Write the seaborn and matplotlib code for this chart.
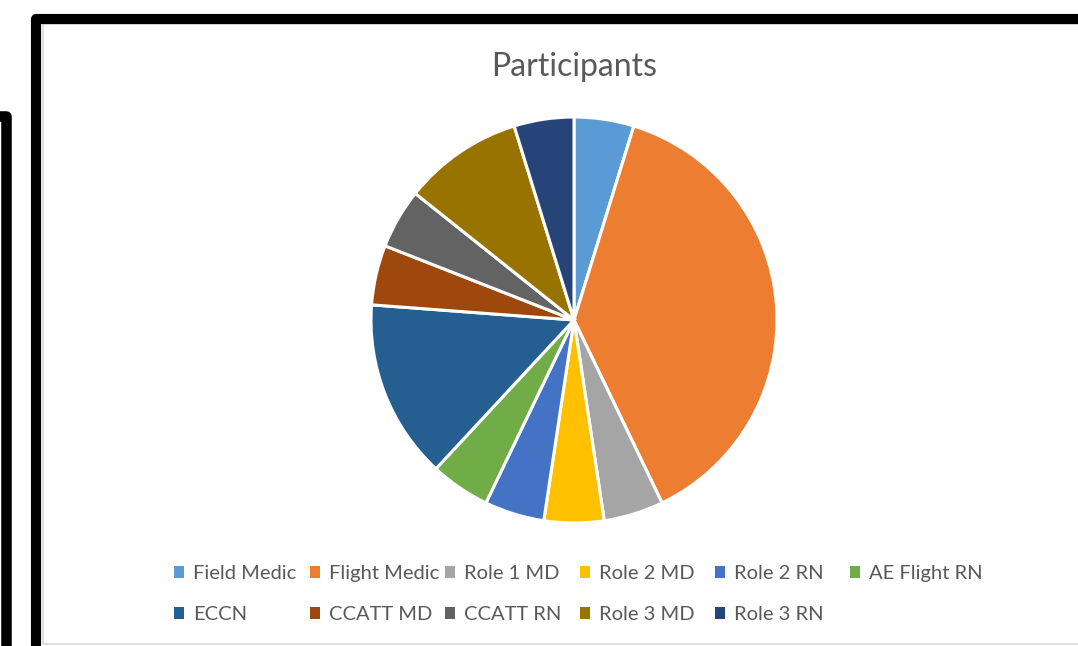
import numpy as np
import pandas as pd
import seaborn as sns
import matplotlib.pyplot as plt
from matplotlib.patches import Patch, Rectangle

# Participants by role
roles = ['Field Medic', 'Flight Medic', 'Role 1 MD', 'Role 2 MD', 'Role 2 RN', 'AE Flight RN',
         'ECCN', 'CCATT MD', 'CCATT RN', 'Role 3 MD', 'Role 3 RN']
counts = [1, 8, 1, 1, 1, 1, 3, 1, 1, 2, 1]
colors = ['#5B9BD5', '#ED7D31', '#A5A5A5', '#FFC000', '#4472C4', '#70AD47',
          '#255E91', '#9E480E', '#636363', '#997300', '#264478']

df = pd.DataFrame({'Role': roles, 'Count': counts})

sns.set_theme(style='white')
plt.rcParams['font.family'] = ['Lato', 'DejaVu Sans']
palette = sns.color_palette(colors)

W, H = 1078, 646
fig = plt.figure(figsize=(W / 100, H / 100), dpi=100)
fig.patch.set_facecolor('white')

def fx(x):
    return x / W

def fy(y):
    return 1 - y / H

# pie axes: centre (574, 320), radius 203 px
cx, cy, r = 574, 320, 203
ax = fig.add_axes([fx(cx - r), fy(cy + r), 2 * r / W, 2 * r / H])
ax.pie(df['Count'], colors=palette, startangle=90, counterclock=False,
       wedgeprops=dict(edgecolor='white', linewidth=2.2))
ax.set_xlim(-1, 1)
ax.set_ylim(-1, 1)
ax.set_aspect('equal')
ax.axis('off')

fig.text(fx(574), fy(67), 'Participants', ha='center', va='center',
         fontsize=23, color='#595959')

# legend: 6 equal columns, 2 rows
handles = [Patch(facecolor=c, edgecolor='none') for c in palette]
col_x = [174, 310, 445, 580, 715, 850]
for i, x0 in enumerate(col_x):
    idx = [j for j in (i, i + 6) if j < len(roles)]
    leg = fig.legend([handles[j] for j in idx], [roles[j] for j in idx],
                     loc='upper left', bbox_to_anchor=(fx(x0), fy(565)),
                     frameon=False, fontsize=14.5, handlelength=0.5, handleheight=0.5,
                     handletextpad=0.45, labelspacing=1.2, borderpad=0, borderaxespad=0)
    for t in leg.get_texts():
        t.set_color('#595959')

# screenshot frames
fig.patches.append(Rectangle((fx(42.5), fy(643.5)), fx(1100), fy(24) - fy(643.5),
                             transform=fig.transFigure, fill=False,
                             edgecolor='#D9D9D9', linewidth=1.2))
fig.patches.append(Rectangle((fx(36), fy(700)), fx(1100), fy(19) - fy(700),
                             transform=fig.transFigure, fill=False,
                             edgecolor='black', linewidth=7.3, joinstyle='round'))
fig.patches.append(Rectangle((fx(-60), fy(700)), fx(65.5), fy(115.5) - fy(700),
                             transform=fig.transFigure, fill=False,
                             edgecolor='black', linewidth=7.6, joinstyle='round'))

fig.savefig('out.png', dpi=100)
